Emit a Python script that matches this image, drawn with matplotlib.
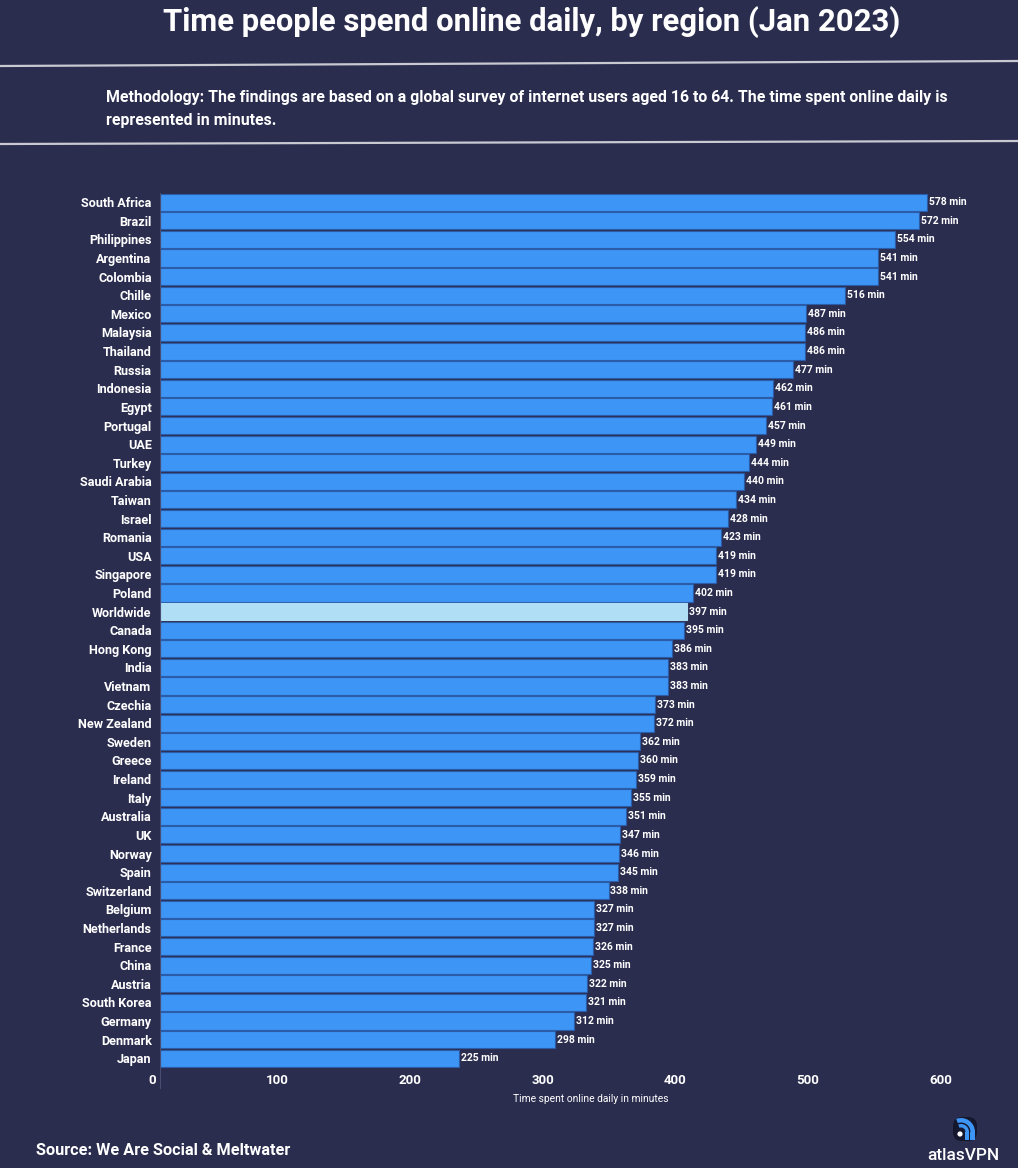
import matplotlib
matplotlib.use('Agg')
import matplotlib.pyplot as plt
from matplotlib.patches import Wedge, Circle, FancyBboxPatch, Rectangle
from matplotlib.transforms import ScaledTranslation
import numpy as np

W, H = 1018, 1168
bg_color = '#2b2d4f'
bar_color = '#3d95f5'
edge_color = '#2b5ca8'
highlight_color = '#b0def5'

regions = ['South Africa', 'Brazil', 'Philippines', 'Argentina', 'Colombia', 'Chille', 'Mexico',
           'Malaysia', 'Thailand', 'Russia', 'Indonesia', 'Egypt', 'Portugal', 'UAE', 'Turkey',
           'Saudi Arabia', 'Taiwan', 'Israel', 'Romania', 'USA', 'Singapore', 'Poland', 'Worldwide',
           'Canada', 'Hong Kong', 'India', 'Vietnam', 'Czechia', 'New Zealand', 'Sweden', 'Greece',
           'Ireland', 'Italy', 'Australia', 'UK', 'Norway', 'Spain', 'Switzerland', 'Belgium',
           'Netherlands', 'France', 'China', 'Austria', 'South Korea', 'Germany', 'Denmark', 'Japan']
minutes = [578, 572, 554, 541, 541, 516, 487, 486, 486, 477, 462, 461, 457, 449, 444, 440, 434,
           428, 423, 419, 419, 402, 397, 395, 386, 383, 383, 373, 372, 362, 360, 359, 355, 351,
           347, 346, 345, 338, 327, 327, 326, 325, 322, 321, 312, 298, 225]
x_ticks = [0, 100, 200, 300, 400, 500, 600]

plt.rcParams['font.family'] = ['Roboto', 'DejaVu Sans']

fig = plt.figure(figsize=(W / 100, H / 100), dpi=100, facecolor=bg_color)

# full page overlay in pixel coords for title, rules, logo
page = fig.add_axes([0, 0, 1, 1])
page.set_xlim(0, W)
page.set_ylim(H, 0)
page.axis('off')

page.text(532, 22, 'Time people spend online daily, by region (Jan 2023)', color='white',
          fontsize=22.4, fontweight='bold', ha='center', va='center')
page.plot([0, W], [66, 61], color='#c9c9d2', lw=1.6)
page.plot([0, W], [144, 141], color='#c9c9d2', lw=1.6)
page.text(106, 97.5, 'Methodology: The findings are based on a global survey of internet users aged 16 to 64. '
          'The time spent online daily is', color='white', fontsize=11.4, fontweight='bold', va='center')
page.text(106, 120.5, 'represented in minutes.', color='white', fontsize=11.4, fontweight='bold', va='center')
page.text(36, 1150.5, 'Source: We Are Social & Meltwater', color='white', fontsize=11.7,
          fontweight='bold', va='center')
page.text(963.5, 1155, 'atlasVPN', color='white', fontsize=12.4, fontweight='medium', ha='center', va='center')

# logo
page.add_patch(FancyBboxPatch((954, 1118), 22, 22, boxstyle='round,pad=1,rounding_size=9',
                              fc='#15172f', ec='none'))
page.add_patch(Wedge((961, 1132), 14, 250, 360, width=4.5, fc=bar_color, ec='none'))
page.add_patch(Rectangle((970.5, 1132), 4.5, 8, fc=bar_color, ec='none'))
page.add_patch(Wedge((961, 1132), 8, 250, 360, width=3.5, fc=bar_color, ec='none'))
page.add_patch(Rectangle((965.5, 1132), 3.5, 8, fc=bar_color, ec='none'))
page.add_patch(Circle((960, 1134), 2.6, fc='white', ec='none'))

# chart axes, placed by pixels
left, right, top, bottom = 160, 1000, 193, 1088
ax = fig.add_axes([left / W, 1 - bottom / H, (right - left) / W, (bottom - top) / H])
ax.patch.set_alpha(0)
y_pos = np.arange(len(regions))
colors = [highlight_color if r == 'Worldwide' else bar_color for r in regions]
edges = [highlight_color if r == 'Worldwide' else edge_color for r in regions]
ax.barh(y_pos, minutes, height=0.92, color=colors, edgecolor=edges, linewidth=0.8)
ax.set_xlim(0, (right - left) / 1.327)
pitch = (1050 - 194) / 46
ax.set_ylim((bottom - 202.2) / pitch, (top - 202.2) / pitch)

for y, v in zip(y_pos, minutes):
    ax.annotate(f'{v} min', (v, y), xytext=(1.4, 0), textcoords='offset points', color='white',
                fontsize=7.5, fontweight='bold', va='center', ha='left')

ax.set_yticks(y_pos)
ax.set_yticklabels(regions, color='white', fontsize=9.1, fontweight='bold')
ax.set_xticks(x_ticks)
ax.set_xticklabels(x_ticks, color='white', fontsize=9.5, fontweight='bold', ha='right')
ax.tick_params(axis='both', length=0, pad=6)
ax.tick_params(axis='x', pad=-10)

# tick labels sit just left of their tick
shift = ScaledTranslation(-4 / 100, 0, fig.dpi_scale_trans)
for label in ax.get_xticklabels():
    label.set_transform(label.get_transform() + shift)

for s in ['top', 'right', 'bottom']:
    ax.spines[s].set_visible(False)
ax.spines['left'].set_color('#4a4d72')
ax.spines['left'].set_linewidth(0.8)

page.text(591, 1099, 'Time spent online daily in minutes', color='white', fontsize=7.4, ha='center',
          va='center')

fig.savefig('out.png', dpi=100, facecolor=bg_color)
